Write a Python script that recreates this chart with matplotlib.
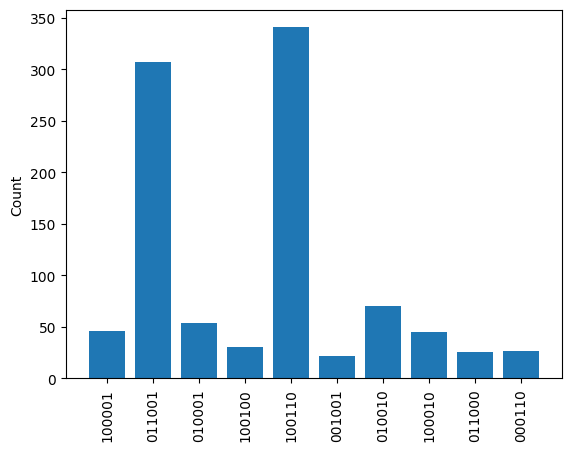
import matplotlib
matplotlib.use("Agg")
import matplotlib.pyplot as plt

# measurement outcomes and their counts
states = ["100001", "011001", "010001", "100100", "100110",
          "001001", "010010", "100010", "011000", "000110"]
counts = [46, 307, 54, 30, 341, 22, 70, 45, 26, 27]

fig = plt.figure(figsize=(5.71, 4.52), dpi=100)
ax = fig.add_axes([66 / 571, 72.7 / 452, 496 / 571, 368.6 / 452])
ax.bar(states, counts)
ax.set_ylabel("Count")
ax.tick_params(axis="x", rotation=90)

fig.savefig("out.png", dpi=100)
